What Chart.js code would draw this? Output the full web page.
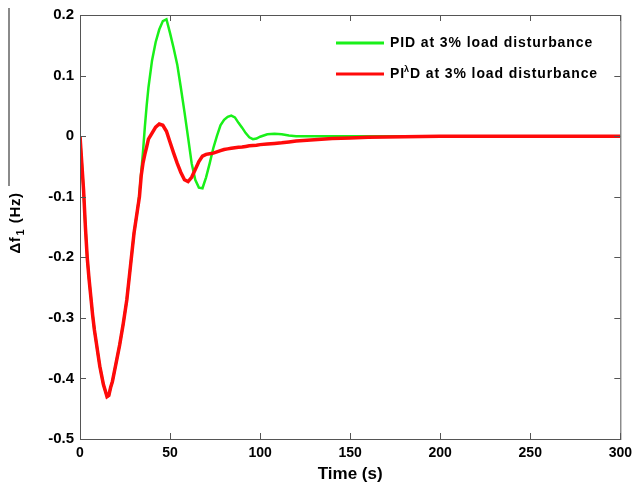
<!DOCTYPE html>
<html>
<head>
<meta charset="utf-8">
<script src="https://cdn.jsdelivr.net/npm/chart.js@4/dist/chart.umd.min.js"></script>
<style>
  html, body { margin: 0; padding: 0; background: #fff; }
  #wrap { width: 638px; height: 485px; }
</style>
</head>
<body>
<div id="wrap"><canvas id="chart" width="638" height="485"></canvas></div>
<script>
// time in seconds, shared by both curves
const times = [0, 1, 2, 3, 4, 5, 6, 7, 8, 9, 10, 11, 12, 13, 14, 15, 16, 17, 18, 19, 20,
  22, 24, 26, 28, 30, 32, 33, 34, 35, 36, 37, 38, 40, 42, 44, 46, 48, 50, 52, 54, 56, 58,
  60, 62, 64, 66, 68, 70, 72, 74, 76, 78, 80, 82, 84, 86, 88, 90, 92, 94, 96, 98, 100,
  104, 108, 112, 116, 120, 130, 140, 150, 160, 170, 180, 190, 200, 210, 250, 300];

const pidValues = [0, -0.045, -0.09, -0.15, -0.2, -0.235, -0.265, -0.295, -0.32, -0.34, -0.36,
  -0.38, -0.395, -0.41, -0.42, -0.43, -0.428, -0.415, -0.405, -0.39, -0.375,
  -0.345, -0.31, -0.27, -0.215, -0.16, -0.12, -0.095, -0.06, -0.025, 0.015, 0.05, 0.08,
  0.125, 0.155, 0.176, 0.19, 0.193, 0.17, 0.145, 0.118, 0.08, 0.04,
  -0.002, -0.045, -0.072, -0.085, -0.086, -0.068, -0.045, -0.02, 0.0, 0.018, 0.027, 0.032,
  0.034, 0.031, 0.022, 0.014, 0.005, -0.002, -0.005, -0.004, -0.001,
  0.003, 0.004, 0.003, 0.001, 0, 0, 0, 0, 0, 0, 0, 0, 0, 0, 0, 0];

const pildValues = [0, -0.045, -0.09, -0.15, -0.2, -0.235, -0.265, -0.295, -0.32, -0.34, -0.36,
  -0.38, -0.395, -0.41, -0.42, -0.43, -0.428, -0.415, -0.405, -0.39, -0.375,
  -0.345, -0.31, -0.27, -0.215, -0.16, -0.12, -0.1, -0.065, -0.044, -0.03, -0.018, -0.005,
  0.005, 0.015, 0.02, 0.018, 0.008, -0.01, -0.028, -0.045, -0.06, -0.072,
  -0.075, -0.068, -0.055, -0.042, -0.033, -0.03, -0.029, -0.028, -0.026, -0.024, -0.022, -0.021,
  -0.02, -0.019, -0.0185, -0.018, -0.017, -0.016, -0.0155, -0.015, -0.014,
  -0.013, -0.012, -0.011, -0.0095, -0.008, -0.006, -0.004, -0.003, -0.002, -0.0015, -0.001, -0.0005, 0, 0, 0, 0];

const seriesLabels = ['PID at 3% load disturbance', 'PI\u03BBD at 3% load disturbance'];
const xTicks = [0, 50, 100, 150, 200, 250, 300];
const yTicks = [0.2, 0.1, 0, -0.1, -0.2, -0.3, -0.4, -0.5];

const toPoints = vals => times.map((t, i) => ({ x: t, y: vals[i] }));

const SANS = '"Liberation Sans", Arial, sans-serif';
const FONT = 'bold 15px ' + SANS;

// frame, inward ticks, legend and y title
const decor = {
  id: 'decor',
  afterDraw(chart) {
    const { ctx, chartArea: a, scales } = chart;
    ctx.save();
    // stray grey line at the far left of the picture
    ctx.strokeStyle = '#8a8a8a';
    ctx.lineWidth = 2;
    ctx.beginPath(); ctx.moveTo(9, 8); ctx.lineTo(9, 186); ctx.stroke();

    ctx.strokeStyle = '#555';
    ctx.lineWidth = 1;
    ctx.strokeRect(a.left + 0.5, a.top + 0.5, a.right - a.left, a.bottom - a.top);
    ctx.beginPath();
    xTicks.forEach(v => {
      const x = Math.round(scales.x.getPixelForValue(v)) + 0.5;
      ctx.moveTo(x, a.bottom); ctx.lineTo(x, a.bottom - 6);
      ctx.moveTo(x, a.top); ctx.lineTo(x, a.top + 6);
    });
    yTicks.forEach(v => {
      const y = Math.round(scales.y.getPixelForValue(v)) + 0.5;
      ctx.moveTo(a.left, y); ctx.lineTo(a.left + 6, y);
      ctx.moveTo(a.right, y); ctx.lineTo(a.right - 6, y);
    });
    ctx.stroke();

    // legend
    const rows = chart.data.datasets;
    const lf = 'bold 14px ' + SANS;
    ctx.font = lf;
    ctx.letterSpacing = '0.9px';
    ctx.textBaseline = 'middle';
    ctx.fillStyle = '#000';
    rows.forEach((d, i) => {
      const y = 43 + i * 31;
      ctx.strokeStyle = d.borderColor;
      ctx.lineWidth = 3;
      ctx.beginPath(); ctx.moveTo(336, y); ctx.lineTo(384, y); ctx.stroke();
      let x = 390;
      const txt = d.label;
      const k = txt.indexOf('\u03BB');
      if (k < 0) {
        ctx.fillText(txt, x, y);
      } else {
        const pre = txt.slice(0, k), post = txt.slice(k + 1);
        ctx.fillText(pre, x, y); x += ctx.measureText(pre).width;
        ctx.font = 'bold 9px ' + SANS;
        ctx.fillText('\u03BB', x - 1, y - 4); x += ctx.measureText('\u03BB').width - 1;
        ctx.font = lf;
        ctx.fillText(post, x, y);
      }
    });
    ctx.letterSpacing = '0px';

    // y axis title with subscript
    ctx.translate(16, 223);
    ctx.rotate(-Math.PI / 2);
    ctx.fillStyle = '#000';
    ctx.textBaseline = 'middle';
    ctx.letterSpacing = '0.6px';
    const p1 = '\u0394f', p2 = '1', p3 = ' (Hz)';
    const sub = 'bold 11px ' + SANS;
    ctx.font = FONT;
    const w1 = ctx.measureText(p1).width;
    ctx.font = sub;
    const w2 = ctx.measureText(p2).width;
    ctx.font = FONT;
    const w3 = ctx.measureText(p3).width;
    let x0 = -(w1 + w2 + w3 + 2) / 2;
    ctx.fillText(p1, x0, 0); x0 += w1 + 1;
    ctx.font = sub;
    ctx.fillText(p2, x0, 5); x0 += w2 + 1;
    ctx.font = FONT;
    ctx.fillText(p3, x0, 0);
    ctx.restore();
  }
};

new Chart(document.getElementById('chart'), {
  type: 'line',
  data: {
    datasets: [
      { label: seriesLabels[0], data: toPoints(pidValues), borderColor: '#19f019',
        borderWidth: 2.5, pointRadius: 0, tension: 0, order: 1 },
      { label: seriesLabels[1], data: toPoints(pildValues), borderColor: '#ff0a0a',
        borderWidth: 3.5, pointRadius: 0, tension: 0, order: 0 }
    ]
  },
  options: {
    responsive: false,
    animation: false,
    layout: { autoPadding: false, padding: { top: 14, right: 13, left: 0, bottom: 0 } },
    plugins: { legend: { display: false }, tooltip: { enabled: false } },
    scales: {
      x: {
        type: 'linear', min: 0, max: 300,
        afterFit: s => { s.height = 46; },
        afterBuildTicks: s => { s.ticks = xTicks.map(v => ({ value: v })); },
        grid: { display: false, drawTicks: false, tickLength: 0 }, border: { display: false },
        ticks: { font: { family: '"Liberation Sans Narrow", "Liberation Sans", Arial', size: 14, weight: 'bold' },
                 color: '#000', padding: 6, maxRotation: 0 },
        title: { display: true, text: 'Time (s)', color: '#000', padding: { top: 3, bottom: 0 },
                 font: { family: '"Liberation Sans", Arial', size: 17, weight: 'bold' } }
      },
      y: {
        min: -0.5, max: 0.2,
        afterFit: s => { s.width = 80; },
        afterBuildTicks: s => { s.ticks = yTicks.map(v => ({ value: v })); },
        grid: { display: false, drawTicks: false, tickLength: 0 }, border: { display: false },
        ticks: { font: { family: '"Liberation Sans", Arial', size: 15, weight: 'bold' },
                 color: '#000', padding: 6,
                 callback: v => String(Math.round(v * 10) / 10) }
      }
    }
  },
  plugins: [decor]
});
</script>
</body>
</html>
